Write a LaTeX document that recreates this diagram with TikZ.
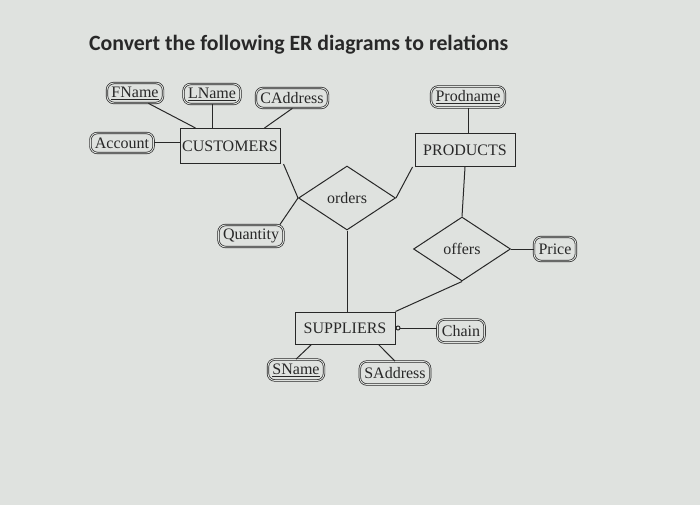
\documentclass[tikz,border=0pt]{standalone}
\usepackage{fontspec}
\setmainfont{Liberation Serif}
\newfontfamily\titlefont{Carlito}
\usetikzlibrary{arrows.meta,shapes.geometric,calc}
\definecolor{paper}{RGB}{223,226,223}
\definecolor{ink}{RGB}{40,40,40}

\begin{document}
\begin{tikzpicture}[x=1pt, y=-1pt, font=\fontsize{16}{19}\selectfont, every node/.style={inner sep=2pt, text=ink}]
        \tikzset{
            ent/.style={draw=ink, line width=1pt, minimum width=100pt, minimum height=34pt},
            att/.style={draw=ink, double=paper, double distance=0.9pt, line width=0.7pt, rounded corners=7pt, inner xsep=4.5pt, minimum height=20pt},
            rel/.style={diamond, draw=ink, line width=1pt, minimum width=97pt, minimum height=64pt, inner sep=0pt},
            ln/.style={draw=ink, line width=1pt}
        }
        \fill[paper] (0,0) rectangle (700,505);
        \node[font=\titlefont\bfseries\fontsize{21.8}{26}\selectfont, anchor=west] (title) at (87,45) {Convert the following ER diagrams to relations};
        % entities
        \node[ent, minimum height=35pt] (cust) at (230,146) {CUSTOMERS};
        \node[ent, minimum height=33pt] (prod) at (465,150) {PRODUCTS};
        \node[ent, minimum height=32pt] (supp) at (345,328) {SUPPLIERS};
        % relationships
        \node[rel] (orders) at (347,198) {orders};
        \node[rel] (offers) at (462,249) {offers};
        % attributes
        \node[att] (fname) at (135,93) {\underline{FName}};
        \node[att] (lname) at (212,94) {\underline{LName}};
        \node[att] (caddr) at (292,98) {CAddress};
        \node[att, minimum height=21pt] (pname) at (468,97) {\underline{Prodname}};
        \node[att] (acct) at (122,143) {Account};
        \node[att, minimum height=22pt] (qty) at (251,236) {Quantity};
        \node[att, minimum height=24pt] (price) at (555,249) {Price};
        \node[att, minimum height=23pt] (chain) at (461,331) {Chain};
        \node[att, minimum height=21pt] (sname) at (296,370) {\underline{SName}};
        \node[att, minimum height=23pt] (saddr) at (395,373) {SAddress};
        % connectors
        \draw[ln] ([xshift=-15pt]fname.south east) -- ([xshift=16pt]cust.north west);
        \draw[ln] (lname.south) -- (lname.south |- cust.north);
        \draw[ln] ([xshift=-36pt]caddr.south east) -- ([xshift=-16pt]cust.north east);
        \draw[ln] (acct.east) -- (acct.east -| cust.west);
        \draw[ln] (pname.south) -- (pname.south |- prod.north);
        \draw[ln] ([xshift=3pt]cust.south east) -- (orders.west);
        \draw[ln] ([xshift=-2pt]prod.south west) -- (orders.east);
        \draw[ln] ([xshift=-4pt]qty.north east) -- (orders.west);
        \draw[ln] (orders.south) -- (orders.south |- supp.north);
        \draw[ln] (prod.south) -- (offers.north);
        \draw[ln] (offers.east) -- (price.west);
        \draw[ln] (offers.south) -- (supp.north east);
        \draw[ln, {Circle[open, length=5pt, width=5pt]}-] (supp.east) -- (supp.east -| chain.west);
        \draw[ln] ([xshift=17pt]supp.south west) -- (sname.north);
        \draw[ln] ([xshift=-17pt]supp.south east) -- (saddr.north);
    \end{tikzpicture}
\end{document}
